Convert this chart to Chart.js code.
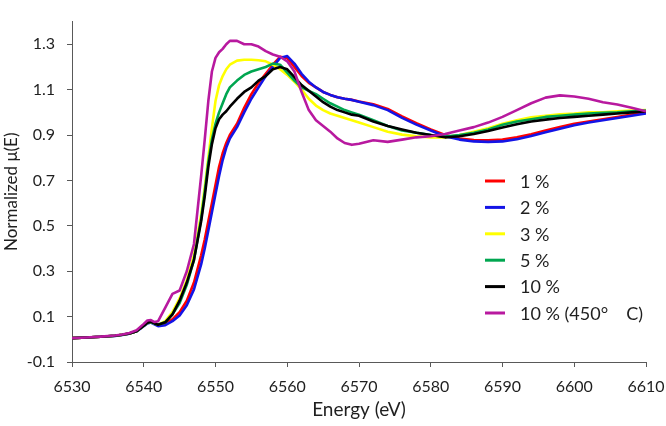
<!DOCTYPE html>
<html><head><meta charset="utf-8">
<script src="https://cdn.jsdelivr.net/npm/chart.js@4/dist/chart.umd.min.js"></script>
<style>html,body{margin:0;padding:0;background:#fff}</style>
</head><body>
<canvas id="c" width="666" height="426"></canvas>
<script>
// ---- data ----
const energy = [6530,6532,6534,6536,6537,6538,6539,6540,6540.5,6541,6541.5,6542,6543,6544,6545,6546,6547,6548,6548.5,6549,6549.5,6550,6550.5,6551,6551.5,6552,6553,6554,6555,6556,6557,6558,6559,6560,6561,6562,6563,6564,6565,6566,6567,6568,6569,6570,6572,6574,6576,6578,6580,6582,6584,6586,6588,6590,6592,6594,6596,6598,6600,6602,6604,6606,6608,6610];

const seriesLabels = ['1 %','2 %','3 %','5 %','10 %','10 % (450°\u2003 C)'];
const seriesColors = ['#ff0000','#1414e6','#ffff00','#00a650','#000000','#b8199f'];

const xTicks = [6530,6540,6550,6560,6570,6580,6590,6600,6610];
const yTicks = [-0.1,0.1,0.3,0.5,0.7,0.9,1.1,1.3];

const s1pct = [0.005,0.008,0.011,0.016,0.02,0.026,0.036,0.06,0.073,0.077,0.07,0.063,0.068,0.088,0.12,0.17,0.25,0.37,0.44,0.52,0.6,0.68,0.76,0.82,0.865,0.9,0.95,1.02,1.08,1.13,1.17,1.21,1.245,1.24,1.2,1.16,1.13,1.11,1.09,1.077,1.067,1.06,1.055,1.048,1.036,1.015,0.982,0.952,0.925,0.9,0.885,0.878,0.877,0.88,0.89,0.904,0.92,0.935,0.95,0.96,0.97,0.98,0.99,1.0];
const s2pct = [0.005,0.008,0.011,0.015,0.019,0.025,0.035,0.058,0.07,0.074,0.066,0.058,0.062,0.08,0.105,0.15,0.22,0.33,0.4,0.48,0.56,0.64,0.72,0.79,0.845,0.885,0.935,1.0,1.06,1.11,1.16,1.2,1.24,1.248,1.215,1.17,1.135,1.11,1.09,1.077,1.067,1.06,1.055,1.047,1.032,1.01,0.976,0.946,0.92,0.895,0.88,0.872,0.87,0.872,0.882,0.896,0.912,0.928,0.943,0.955,0.965,0.975,0.985,0.995];
const s3pct = [0.005,0.008,0.011,0.016,0.02,0.026,0.036,0.06,0.072,0.076,0.07,0.065,0.08,0.12,0.18,0.26,0.37,0.55,0.67,0.8,0.93,1.05,1.12,1.16,1.19,1.21,1.228,1.232,1.232,1.23,1.225,1.21,1.19,1.165,1.135,1.1,1.06,1.03,1.01,0.995,0.985,0.975,0.965,0.955,0.935,0.915,0.902,0.895,0.89,0.89,0.9,0.915,0.93,0.95,0.965,0.978,0.985,0.992,0.995,1.0,1.0,1.005,1.008,1.01];
const s5pct = [0.005,0.008,0.011,0.016,0.02,0.026,0.036,0.06,0.072,0.076,0.07,0.064,0.075,0.11,0.16,0.24,0.35,0.53,0.65,0.78,0.88,0.95,1.0,1.04,1.08,1.11,1.14,1.165,1.18,1.19,1.2,1.215,1.21,1.175,1.14,1.11,1.095,1.08,1.06,1.04,1.025,1.01,1.0,0.99,0.965,0.94,0.92,0.91,0.9,0.893,0.9,0.91,0.925,0.945,0.96,0.97,0.98,0.985,0.99,0.995,0.998,1.0,1.005,1.008];
const s10pct = [0.005,0.008,0.011,0.016,0.02,0.026,0.036,0.06,0.073,0.077,0.07,0.064,0.075,0.11,0.17,0.25,0.35,0.52,0.63,0.76,0.86,0.93,0.97,0.99,1.005,1.025,1.06,1.09,1.11,1.14,1.16,1.19,1.2,1.19,1.155,1.12,1.095,1.07,1.045,1.025,1.01,1.0,0.99,0.985,0.96,0.94,0.925,0.91,0.9,0.89,0.895,0.905,0.918,0.933,0.948,0.96,0.968,0.975,0.98,0.985,0.99,0.995,1.0,1.005];
const s10pct450 = [0.005,0.008,0.012,0.017,0.021,0.028,0.04,0.068,0.083,0.085,0.076,0.08,0.14,0.2,0.215,0.3,0.42,0.72,0.88,1.05,1.18,1.24,1.265,1.28,1.3,1.315,1.315,1.3,1.3,1.29,1.27,1.255,1.245,1.225,1.18,1.09,1.01,0.965,0.94,0.915,0.885,0.865,0.857,0.862,0.877,0.87,0.88,0.89,0.895,0.905,0.92,0.935,0.955,0.98,1.01,1.04,1.065,1.075,1.07,1.06,1.045,1.035,1.02,1.005];

const allSeries = [s1pct,s2pct,s3pct,s5pct,s10pct,s10pct450];

const FONT = 'Lato';
const TEXT = '#1f1f1f';
const AXIS = '#595959';

const insideLegend = {
  id: 'insideLegend',
  afterDatasetsDraw(chart, args, opts) {
    const ctx = chart.ctx;
    ctx.save();
    ctx.font = opts.size + 'px ' + FONT;
    ctx.textBaseline = 'middle';
    ctx.textAlign = 'left';
    chart.data.datasets.forEach((ds, i) => {
      const y = opts.top + i * opts.rowH;
      ctx.strokeStyle = ds.borderColor;
      ctx.lineWidth = 3;
      ctx.beginPath();
      ctx.moveTo(opts.left, y);
      ctx.lineTo(opts.left + opts.lineW, y);
      ctx.stroke();
      ctx.fillStyle = TEXT;
      ctx.fillText(ds.label, opts.left + opts.lineW + opts.gap, y + 1);
    });
    ctx.restore();
  }
};

const datasets = allSeries.map((vals, i) => ({
  label: seriesLabels[i],
  data: energy.map((e, k) => ({x: e, y: vals[k]})),
  borderColor: seriesColors[i],
  backgroundColor: seriesColors[i],
  borderWidth: 2.6,
  pointRadius: 0,
  tension: 0,
  fill: false,
  borderJoinStyle: 'round',
  order: allSeries.length - i
}));

new Chart(document.getElementById('c'), {
  type: 'line',
  data: {datasets},
  plugins: [insideLegend],
  options: {
    responsive: false,
    devicePixelRatio: 1,
    animation: false,
    layout: {padding: {top: 3, right: 20, left: 0, bottom: 0}},
    plugins: {
      legend: {display: false},
      tooltip: {enabled: false},
      insideLegend: {left: 485, top: 181, rowH: 26.4, lineW: 20, gap: 15, size: 18}
    },
    scales: {
      x: {
        type: 'linear',
        min: 6530, max: 6610,
        afterBuildTicks: s => { s.ticks = xTicks.map(v => ({value: v})); },
        afterFit: s => { s.height = 64; s.paddingRight = 0; s.paddingLeft = 0; },
        ticks: {font: {family: FONT, size: 16}, color: TEXT, padding: 10, maxRotation: 0, autoSkip: false, callback: v => String(v)},
        grid: {drawOnChartArea: false, drawTicks: true, tickLength: 5, color: AXIS},
        border: {display: true, color: AXIS, width: 1},
        title: {display: true, text: 'Energy (eV)', font: {family: FONT, size: 19}, color: TEXT, padding: {top: 0, bottom: 5}}
      },
      y: {
        type: 'linear',
        min: -0.1, max: 1.4,
        afterBuildTicks: s => { s.ticks = yTicks.map(v => ({value: v})); },
        afterFit: s => { s.width = 72; },
        ticks: {font: {family: FONT, size: 16}, color: TEXT, padding: 12, callback: v => v.toFixed(1), autoSkip: false},
        grid: {drawOnChartArea: false, drawTicks: true, tickLength: 5, color: AXIS},
        border: {display: true, color: AXIS, width: 1},
        title: {display: true, text: 'Normalized μ(E)', font: {family: FONT, size: 17}, color: TEXT, padding: {top: 1, bottom: 0}}
      }
    }
  }
});
</script>
</body></html>
